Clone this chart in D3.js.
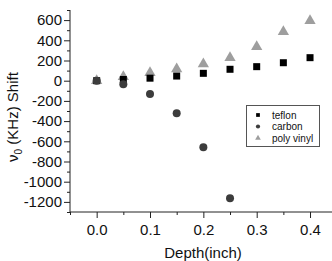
<!DOCTYPE html>
<meta charset="utf-8">
<script src="https://d3js.org/d3.v7.js"></script>
<style>
  body { margin: 0; background: #fff; }
  text { font-family: "Liberation Sans", Arial, sans-serif; }
</style>
<div id="my_dataviz"></div>
<script>

// data
const depth = [0.0, 0.05, 0.1, 0.15, 0.2, 0.25, 0.3, 0.35, 0.4];
const teflon = [0, 12, 25, 46, 73, 113, 139, 178, 228];
const carbonDepth = [0.0, 0.05, 0.1, 0.15, 0.2, 0.25];
const carbon = [0, -36, -132, -323, -660, -1165];
const polyVinyl = [0, 40, 79, 116, 165, 228, 337, 485, 594];
const xTicks = [0.0, 0.1, 0.2, 0.3, 0.4];
const yTicks = [600, 400, 200, 0, -200, -400, -600, -800, -1000, -1200];

const width = 332, height = 261;

const svg = d3.select("#my_dataviz")
  .append("svg")
    .attr("width", width)
    .attr("height", height);

const x = d3.scaleLinear().domain([-0.05, 0.45]).range([70, 336.7]);
const y = d3.scaleLinear().domain([-1300, 700]).range([212, 10]);

// minor ticks first
svg.append("g")
  .attr("transform", "translate(0,212)")
  .call(d3.axisBottom(x).tickValues(d3.range(-0.05, 0.46, 0.1)).tickSize(3).tickFormat(""))
  .call(g => g.select(".domain").remove());
svg.append("g")
  .attr("transform", "translate(70,0)")
  .call(d3.axisLeft(y).tickValues(d3.range(-1300, 701, 200)).tickSize(3).tickFormat(""))
  .call(g => g.select(".domain").remove());

// major axes
const xAxis = svg.append("g")
  .attr("transform", "translate(0,212)")
  .call(d3.axisBottom(x).tickValues(xTicks).tickSize(6).tickPadding(6).tickFormat(d3.format(".1f")));
xAxis.select(".domain").attr("d", "M70,0H332");
xAxis.selectAll("text").style("font-size", "15px").attr("fill", "#111");

const yAxis = svg.append("g")
  .attr("transform", "translate(70,0)")
  .call(d3.axisLeft(y).tickValues(yTicks).tickSize(6).tickPadding(2).tickFormat(d => String(d)));
yAxis.select(".domain").attr("d", "M0,10V212");
yAxis.selectAll("text").style("font-size", "15px").attr("fill", "#111");

svg.selectAll(".tick line, .domain").attr("stroke", "#222");

// axis titles
svg.append("text")
  .attr("x", 203)
  .attr("y", 258)
  .attr("text-anchor", "middle")
  .style("font-size", "15px")
  .attr("fill", "#111")
  .text("Depth(inch)");

const yt = svg.append("text")
  .attr("transform", "translate(18,117) rotate(-90)")
  .attr("text-anchor", "middle")
  .style("font-size", "15px")
  .attr("fill", "#111");
yt.append("tspan").text("\u03bd");
yt.append("tspan").attr("dy", 4).style("font-size", "10px").text("0");
yt.append("tspan").attr("dy", -4).text(" (KHz) Shift");

// poly vinyl triangles
const tri = d3.symbol().type(d3.symbolTriangle).size(55);
svg.append("g").selectAll("path")
  .data(depth.map((d, i) => [d, polyVinyl[i]]))
  .join("path")
    .attr("d", tri)
    .attr("transform", d => `translate(${x(d[0])},${y(d[1])})`)
    .attr("fill", "#9e9e9e");

// teflon squares
svg.append("g").selectAll("rect")
  .data(depth.map((d, i) => [d, teflon[i]]))
  .join("rect")
    .attr("x", d => x(d[0]) - 3.5)
    .attr("y", d => y(d[1]) - 3.5)
    .attr("width", 7)
    .attr("height", 7)
    .attr("fill", "#000");

// carbon circles
svg.append("g").selectAll("circle")
  .data(carbonDepth.map((d, i) => [d, carbon[i]]))
  .join("circle")
    .attr("cx", d => x(d[0]))
    .attr("cy", d => y(d[1]))
    .attr("r", 4)
    .attr("fill", "#3c3c3c");

// legend
const legend = svg.append("g");
legend.append("rect")
  .attr("x", 246.5).attr("y", 105.5)
  .attr("width", 73).attr("height", 41)
  .attr("fill", "#fff").attr("stroke", "#555");

const legendItems = [
  {name: "teflon", color: "#000", shape: "square"},
  {name: "carbon", color: "#3c3c3c", shape: "circle"},
  {name: "poly vinyl", color: "#9e9e9e", shape: "triangle"}
];
legendItems.forEach((d, i) => {
  const cy = 115 + i * 11.5;
  let sym = d.shape === "square" ? d3.symbolSquare : d.shape === "circle" ? d3.symbolCircle : d3.symbolTriangle;
  legend.append("path")
    .attr("d", d3.symbol().type(sym).size(14))
    .attr("transform", `translate(258,${cy})`)
    .attr("fill", d.color);
  legend.append("text")
    .attr("x", 272)
    .attr("y", cy + 3.5)
    .style("font-size", "10px")
    .attr("fill", "#111")
    .text(d.name);
});

</script>
